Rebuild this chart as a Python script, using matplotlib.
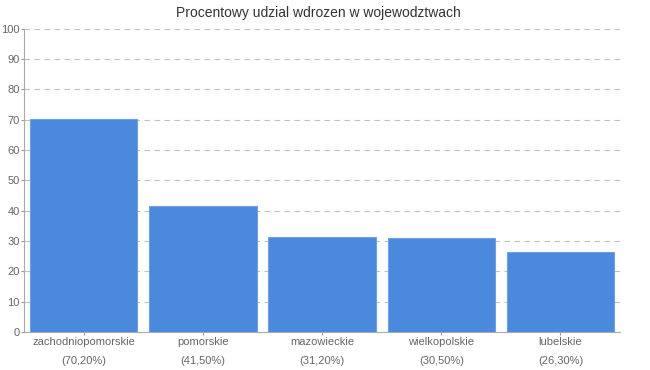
import matplotlib
matplotlib.use('Agg')
import matplotlib.pyplot as plt
import numpy as np

plt.rcParams['font.family'] = ['Liberation Sans', 'DejaVu Sans']

regions = ['zachodniopomorskie', 'pomorskie', 'mazowieckie', 'wielkopolskie', 'lubelskie']
bar_values = [70.2, 41.5, 31.2, 31.1, 26.2]
percent_labels = ['70,20%', '41,50%', '31,20%', '30,50%', '26,30%']

fig = plt.figure(figsize=(6.5, 3.7), dpi=100)
ax = fig.add_axes([0.037, 0.103, 0.917, 0.819])

x_pos = np.arange(len(regions))
ax.bar(x_pos, bar_values, width=0.9, color='#4a89dc', edgecolor='#6fa0e3', linewidth=0.8, zorder=3)

ax.set_xlim(-0.5, len(regions) - 0.5)
ax.set_ylim(0, 100)
ax.set_yticks(np.arange(0, 101, 10))
ax.set_xticks(x_pos)
ax.set_xticklabels(['{}\n({})'.format(r, p) for r, p in zip(regions, percent_labels)],
                   linespacing=2.1)

ax.yaxis.grid(True, linestyle=(0, (5, 4)), color='#c0c0c0', linewidth=0.8, zorder=0)
ax.tick_params(axis='both', colors='#999999', labelcolor='#666666', labelsize=8, length=2.5, width=0.8)
ax.tick_params(axis='y', pad=0.5)
ax.tick_params(axis='x', pad=1)

for s in ['top', 'right']:
    ax.spines[s].set_visible(False)
for s in ['left', 'bottom']:
    ax.spines[s].set_color('#aaaaaa')
    ax.spines[s].set_linewidth(0.8)

fig.suptitle('Procentowy udzial wdrozen w wojewodztwach', x=0.49, y=0.985, fontsize=10, color='#333333')

fig.savefig('out.png', dpi=100)
